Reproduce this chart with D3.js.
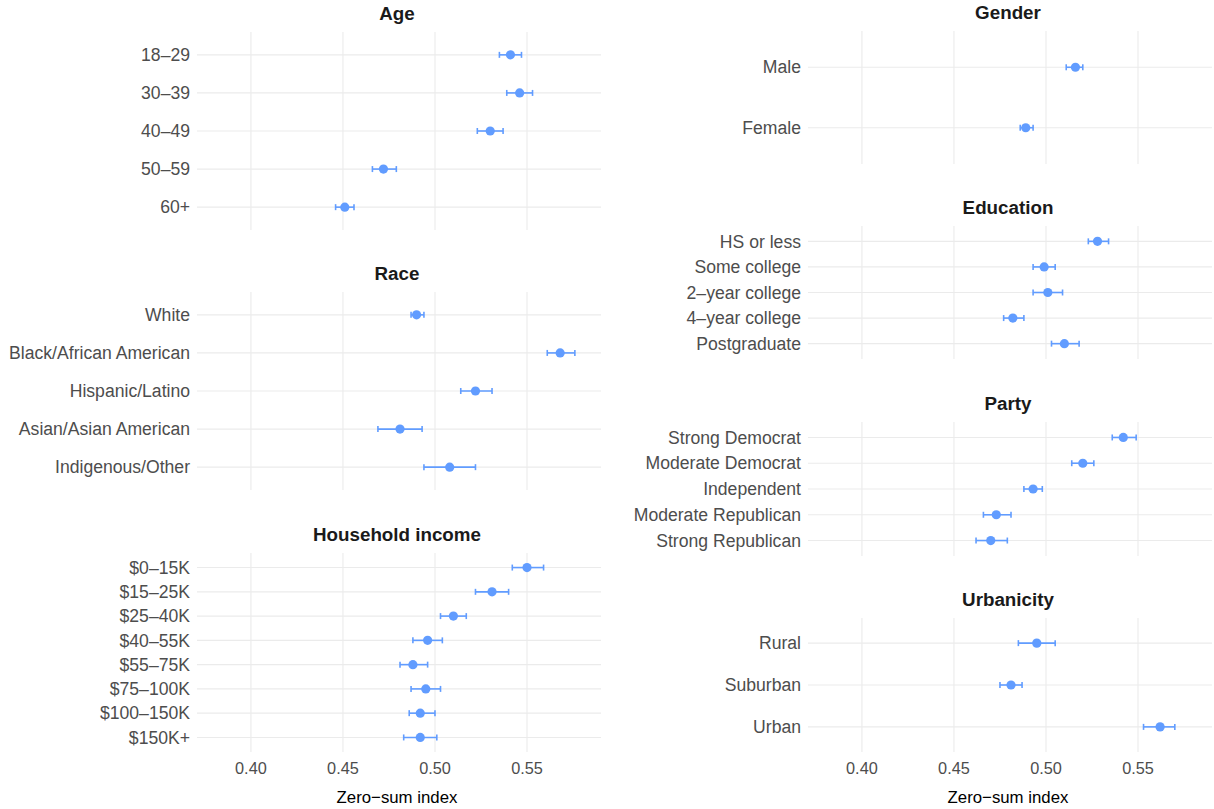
<!DOCTYPE html>
<html lang="en">
<head>
  <meta charset="UTF-8">
  <title>Zero-sum index by group</title>
  <style>
    body { margin: 0; background: #fff; }
    svg { display: block; font-family: 'Liberation Sans', Arial, sans-serif; }
    .grid line { stroke: #ebebeb; stroke-width: 1.1; }
    .cat { fill: #4d4d4d; font-size: 17.6px; }
    .ptitle { fill: #1a1a1a; font-size: 18.8px; font-weight: bold; }
    .tick { fill: #4d4d4d; font-size: 16.3px; }
    .axtitle { fill: #000; font-size: 16.8px; }
  </style>
</head>
<body>
<svg id="chart" width="1214" height="809"></svg>

<script src="https://d3js.org/d3.v7.min.js"></script>
<script>
// ---- data ---------------------------------------------------------
const ageCats    = ["18–29", "30–39", "40–49", "50–59", "60+"];
const ageEst     = [0.541, 0.546, 0.530, 0.472, 0.451];
const ageLo      = [0.535, 0.539, 0.523, 0.466, 0.446];
const ageHi      = [0.547, 0.553, 0.537, 0.479, 0.456];

const raceCats   = ["White", "Black/African American", "Hispanic/Latino", "Asian/Asian American", "Indigenous/Other"];
const raceEst    = [0.490, 0.568, 0.522, 0.481, 0.508];
const raceLo     = [0.487, 0.561, 0.514, 0.469, 0.494];
const raceHi     = [0.494, 0.576, 0.531, 0.493, 0.522];

const incCats    = ["$0–15K", "$15–25K", "$25–40K", "$40–55K", "$55–75K", "$75–100K", "$100–150K", "$150K+"];
const incEst     = [0.550, 0.531, 0.510, 0.496, 0.488, 0.495, 0.492, 0.492];
const incLo      = [0.542, 0.522, 0.503, 0.488, 0.481, 0.487, 0.486, 0.483];
const incHi      = [0.559, 0.540, 0.517, 0.504, 0.496, 0.503, 0.500, 0.501];

const genCats    = ["Male", "Female"];
const genEst     = [0.516, 0.489];
const genLo      = [0.511, 0.486];
const genHi      = [0.520, 0.493];

const eduCats    = ["HS or less", "Some college", "2–year college", "4–year college", "Postgraduate"];
const eduEst     = [0.528, 0.499, 0.501, 0.482, 0.510];
const eduLo      = [0.523, 0.493, 0.493, 0.477, 0.503];
const eduHi      = [0.534, 0.505, 0.509, 0.488, 0.518];

const partyCats  = ["Strong Democrat", "Moderate Democrat", "Independent", "Moderate Republican", "Strong Republican"];
const partyEst   = [0.542, 0.520, 0.493, 0.473, 0.470];
const partyLo    = [0.536, 0.514, 0.488, 0.466, 0.462];
const partyHi    = [0.549, 0.526, 0.498, 0.481, 0.479];

const urbCats    = ["Rural", "Suburban", "Urban"];
const urbEst     = [0.495, 0.481, 0.562];
const urbLo      = [0.485, 0.475, 0.553];
const urbHi      = [0.505, 0.487, 0.570];

const xTicks     = [0.40, 0.45, 0.50, 0.55];
const xDomain    = [0.3707, 0.5902];

// ---- layout -------------------------------------------------------
const svg = d3.select("#chart");
const blue = "#619CFF";

const cols = [
  { left: 197, right: 601 },
  { left: 808, right: 1212 }
];

function rows(cats, est, lo, hi){
  return cats.map((c,i) => ({ cat: c, est: est[i], lo: lo[i], hi: hi[i] }));
}

const panels = [
  { title: "Age",              col: 0, top: 32,  h: 198, data: rows(ageCats, ageEst, ageLo, ageHi) },
  { title: "Race",             col: 0, top: 292, h: 198, data: rows(raceCats, raceEst, raceLo, raceHi) },
  { title: "Household income", col: 0, top: 553, h: 199, data: rows(incCats, incEst, incLo, incHi), axis: true },
  { title: "Gender",           col: 1, top: 31,  h: 133, data: rows(genCats, genEst, genLo, genHi) },
  { title: "Education",        col: 1, top: 226, h: 133, data: rows(eduCats, eduEst, eduLo, eduHi) },
  { title: "Party",            col: 1, top: 422, h: 134, data: rows(partyCats, partyEst, partyLo, partyHi) },
  { title: "Urbanicity",       col: 1, top: 618, h: 134, data: rows(urbCats, urbEst, urbLo, urbHi), axis: true }
];

panels.forEach(p => {
  const c = cols[p.col];
  const x = d3.scaleLinear().domain(xDomain).range([c.left, c.right]);
  const y = d3.scalePoint().domain(p.data.map(d => d.cat))
    .range([p.top, p.top + p.h]).padding(0.6);
  const g = svg.append("g");

  // grid
  const grid = g.append("g").attr("class", "grid");
  grid.selectAll("line.v").data(xTicks).join("line")
    .attr("x1", d => x(d)).attr("x2", d => x(d))
    .attr("y1", p.top).attr("y2", p.top + p.h);
  grid.selectAll("line.h").data(p.data).join("line")
    .attr("x1", c.left).attr("x2", c.right)
    .attr("y1", d => y(d.cat)).attr("y2", d => y(d.cat));

  // title
  g.append("text").attr("class", "ptitle")
    .attr("x", (c.left + c.right) / 2 - 2).attr("y", p.top - 12)
    .attr("text-anchor", "middle").text(p.title);

  // category labels
  g.selectAll("text.cat").data(p.data).join("text")
    .attr("class", "cat")
    .attr("x", c.left - 7).attr("y", d => y(d.cat))
    .attr("dy", "0.35em").attr("text-anchor", "end")
    .text(d => d.cat);

  // error bars
  const eb = g.selectAll("g.eb").data(p.data).join("g")
    .attr("stroke", blue).attr("stroke-width", 1.6);
  eb.append("line")
    .attr("x1", d => x(d.lo)).attr("x2", d => x(d.hi))
    .attr("y1", d => y(d.cat)).attr("y2", d => y(d.cat));
  eb.append("line")
    .attr("x1", d => x(d.lo)).attr("x2", d => x(d.lo))
    .attr("y1", d => y(d.cat) - 3).attr("y2", d => y(d.cat) + 3);
  eb.append("line")
    .attr("x1", d => x(d.hi)).attr("x2", d => x(d.hi))
    .attr("y1", d => y(d.cat) - 3).attr("y2", d => y(d.cat) + 3);

  // points
  g.selectAll("circle").data(p.data).join("circle")
    .attr("cx", d => x(d.est)).attr("cy", d => y(d.cat))
    .attr("r", 4.6).attr("fill", blue);

  // x axis
  if (p.axis) {
    const yb = p.top + p.h;
    g.selectAll("text.tick").data(xTicks).join("text")
      .attr("class", "tick")
      .attr("x", d => x(d)).attr("y", yb + 22)
      .attr("text-anchor", "middle")
      .text(d => d3.format(".2f")(d));
    g.append("text").attr("class", "axtitle")
      .attr("x", (c.left + c.right) / 2 - 2).attr("y", yb + 51)
      .attr("text-anchor", "middle").text("Zero−sum index");
  }
});
</script>
</body>
</html>
